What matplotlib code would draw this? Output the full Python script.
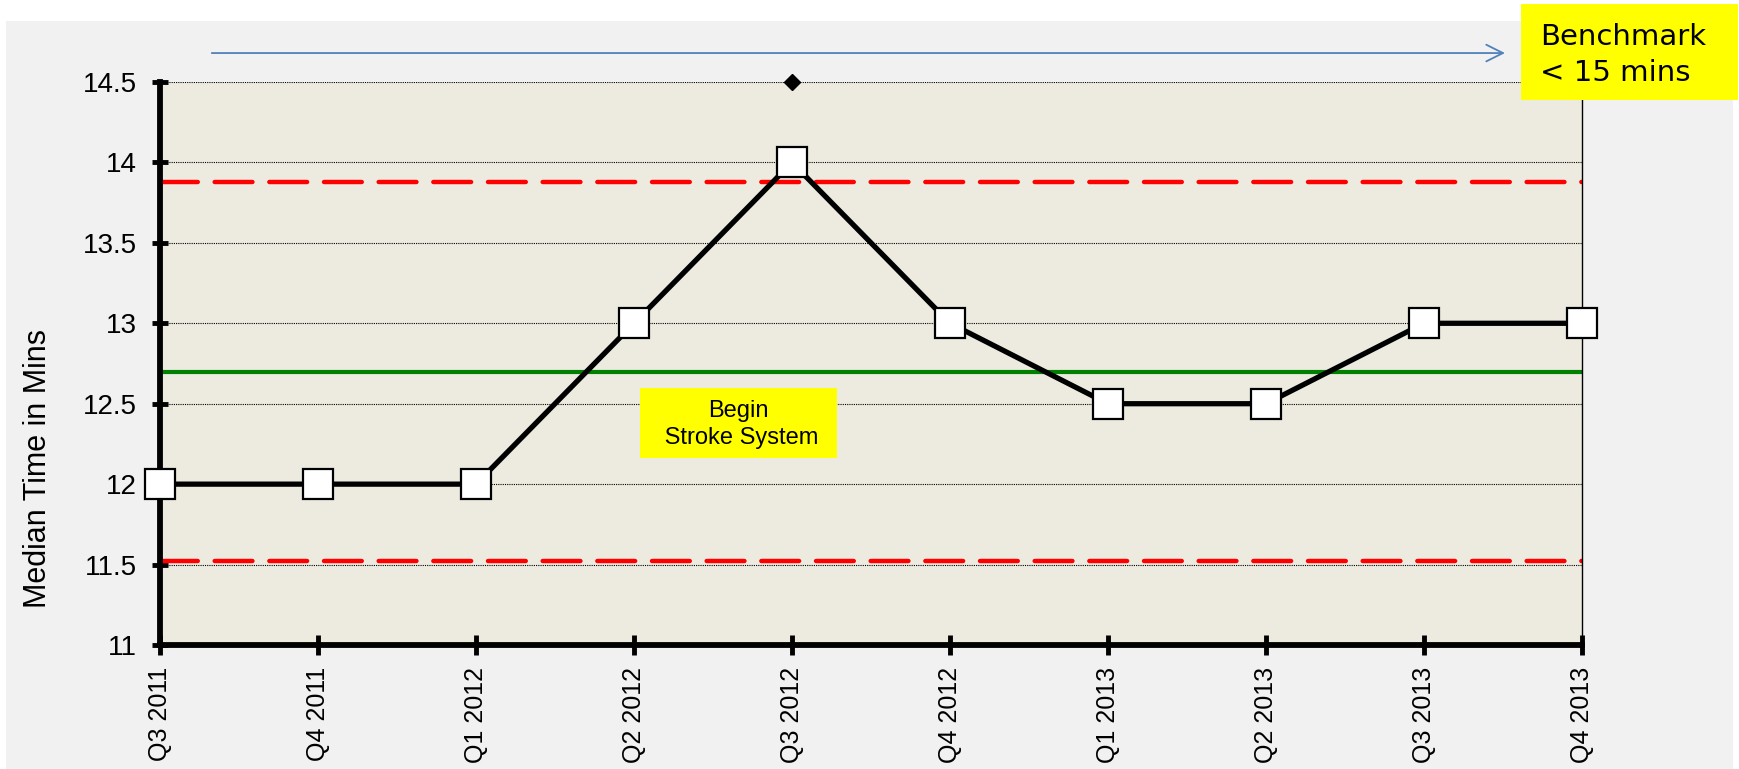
import matplotlib
matplotlib.use("Agg")
import matplotlib.pyplot as plt
from matplotlib.patches import Rectangle

# ---- data ----
quarters = ["Q3 2011", "Q4 2011", "Q1 2012", "Q2 2012", "Q3 2012",
            "Q4 2012", "Q1 2013", "Q2 2013", "Q3 2013", "Q4 2013"]
median_minutes = [12, 12, 12, 13, 14, 13, 12.5, 12.5, 13, 13]
upper_limit = 13.88
lower_limit = 11.52
center_line = 12.7
benchmark_marker_index = 4
benchmark_marker_value = 14.5
y_ticks = [11, 11.5, 12, 12.5, 13, 13.5, 14, 14.5]
y_tick_labels = ["11", "11.5", "12", "12.5", "13", "13.5", "14", "14.5"]

W, H = 1740, 769
fig = plt.figure(figsize=(W / 100, H / 100), dpi=100, facecolor="white")

# gray panel background
fig.patches.append(Rectangle((6 / W, 0), (1733 - 6) / W, 1 - 21 / H,
                             transform=fig.transFigure, facecolor="#F1F1F1",
                             edgecolor="none", zorder=-10))

ax = fig.add_axes([160 / W, 1 - 645 / H, (1582 - 160) / W, (645 - 82) / H])
ax.set_zorder(1)
ax.set_facecolor("#EDEBE0")

x = list(range(len(quarters)))

ax.set_xlim(0, len(quarters) - 1)
ax.set_ylim(11, 14.5)

# gridlines
for yv in y_ticks[1:]:
    ax.axhline(yv, color="black", lw=0.8, ls=(0, (1, 1)), zorder=1)

# control limits
ax.axhline(upper_limit, color="#FF0000", lw=3.2, ls=(0, (8.5, 3.8)),
           dash_capstyle="round", zorder=2)
ax.axhline(lower_limit, color="#FF0000", lw=3.2, ls=(0, (8.5, 3.8)),
           dash_capstyle="round", zorder=2)
ax.axhline(center_line, color="#008000", lw=3, zorder=2)

# data line
ax.plot(x, median_minutes, color="black", lw=3.8, marker="s", markersize=21.5,
        markerfacecolor="white", markeredgecolor="black", markeredgewidth=1.6,
        zorder=5, clip_on=False)

# diamond
ax.plot([x[benchmark_marker_index]], [benchmark_marker_value], marker="D",
        markersize=8, color="black", ls="none", zorder=6, clip_on=False)

# blue arrow
ax.annotate("", xy=(8.53, 14.68), xytext=(0.31, 14.68),
            arrowprops=dict(arrowstyle="->", color="#4F81BD", lw=1.3,
                            mutation_scale=30),
            annotation_clip=False)

# spines
ax.spines["top"].set_visible(False)
ax.spines["left"].set_linewidth(4.2)
ax.spines["bottom"].set_linewidth(4.2)
ax.spines["right"].set_linewidth(1.0)
ax.spines["right"].set_color("black")

ax.set_yticks(y_ticks)
ax.set_yticklabels(y_tick_labels, fontsize=20, family="Liberation Sans")
ax.set_xticks(x)
ax.set_xticklabels(quarters, rotation=90, fontsize=18, family="Liberation Sans")
ax.tick_params(axis="y", direction="inout", length=11, width=3.5, pad=11)
ax.tick_params(axis="x", direction="inout", length=14, width=3.5, pad=9)

ax.set_ylabel("Median Time in Mins", fontsize=22, family="Liberation Sans")
ax.yaxis.set_label_coords((53 - 160) / 1422, (645 - 469) / 563)

# Begin Stroke System box
ax.add_patch(Rectangle((3.038, 12.163), 4.285 - 3.038, 12.598 - 12.163,
                       facecolor="#FFFF00", edgecolor="none", zorder=4))
ax.text((3.038 + 4.285) / 2, (12.163 + 12.598) / 2 - 0.01, "Begin\n Stroke System",
        ha="center", va="center", fontsize=17, family="Liberation Sans",
        zorder=7, linespacing=1.25)

# Benchmark box (figure level)
fig.patches.append(Rectangle((1521 / W, 1 - 100 / H), (1738 - 1521) / W, 96 / H,
                             transform=fig.transFigure, facecolor="#FFFF00",
                             edgecolor="none", zorder=10))
fig.text(1540 / W, 1 - 55 / H, "Benchmark\n< 15 mins", ha="left", va="center",
         fontsize=21, family="DejaVu Sans", zorder=11, linespacing=1.4)

fig.savefig("out.png", dpi=100, facecolor="white")
